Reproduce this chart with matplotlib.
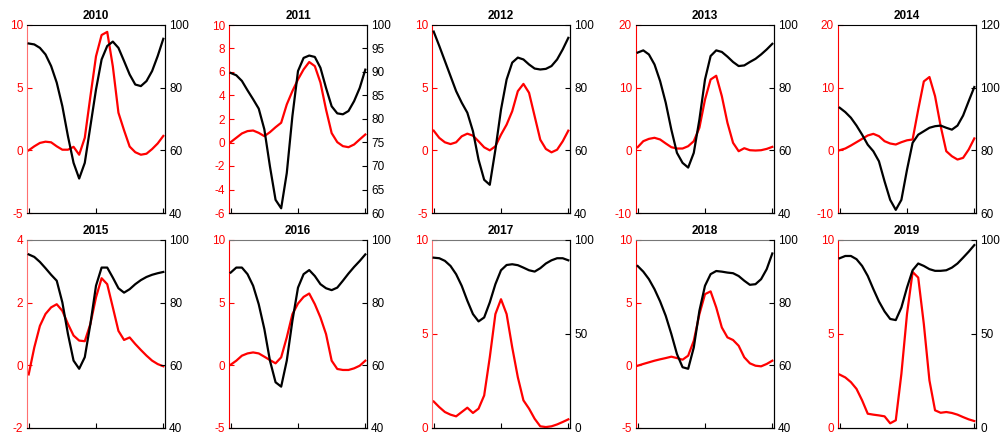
import numpy as np
import matplotlib
matplotlib.use("Agg")
import matplotlib.pyplot as plt

plt.rcParams['font.family'] = ['Liberation Sans', 'DejaVu Sans']
plt.rcParams['axes.unicode_minus'] = False

years = ["2010", "2011", "2012", "2013", "2014", "2015", "2016", "2017", "2018", "2019"]

# red series (left axis), 25 samples across the year
red_2010 = [0.0, 0.32, 0.59, 0.69, 0.64, 0.32, 0.05, 0.05, 0.28, -0.35, 1.0, 4.3, 7.5, 9.2, 9.45,
            6.7, 3.0, 1.6, 0.3, -0.15, -0.35, -0.27, 0.1, 0.55, 1.15]
red_2011 = [0.03, 0.4, 0.77, 0.97, 1.02, 0.82, 0.54, 0.88, 1.3, 1.68, 3.24, 4.37, 5.37, 6.22, 6.85,
            6.5, 5.1, 2.8, 0.8, 0.03, -0.31, -0.4, -0.17, 0.26, 0.68]
red_2012 = [1.57, 0.99, 0.64, 0.5, 0.64, 1.12, 1.33, 1.17, 0.72, 0.24, 0.0, 0.32, 1.25, 2.05, 3.12,
            4.72, 5.3, 4.59, 2.72, 0.85, 0.11, -0.16, 0.05, 0.72, 1.57]
red_2013 = [0.5, 1.46, 1.83, 2.0, 1.73, 1.1, 0.5, 0.29, 0.29, 0.66, 1.46, 3.6, 8.1, 11.3, 11.9,
            8.65, 4.4, 1.2, -0.14, 0.34, 0.02, -0.03, 0.02, 0.23, 0.55]
red_2014 = [0.02, 0.29, 0.77, 1.3, 1.83, 2.37, 2.63, 2.26, 1.46, 1.09, 0.93, 1.3, 1.6, 1.73, 6.5,
            11.0, 11.7, 8.65, 3.86, -0.14, -0.94, -1.47, -1.2, 0.13, 1.9]
red_2015 = [-0.29, 0.57, 1.26, 1.64, 1.85, 1.95, 1.74, 1.32, 0.95, 0.79, 0.77, 1.32, 2.17, 2.78, 2.59,
            1.85, 1.1, 0.81, 0.89, 0.68, 0.49, 0.31, 0.15, 0.04, -0.03]
red_2016 = [0.05, 0.37, 0.77, 0.95, 1.03, 0.95, 0.69, 0.42, 0.16, 0.64, 2.23, 4.08, 4.93, 5.46, 5.73,
            4.88, 3.82, 2.49, 0.37, -0.29, -0.37, -0.37, -0.24, -0.03, 0.37]
red_2017 = [1.41, 1.11, 0.85, 0.71, 0.62, 0.85, 1.08, 0.8, 1.03, 1.73, 3.76, 6.06, 6.85, 6.06, 4.29,
            2.7, 1.47, 1.03, 0.49, 0.09, 0.05, 0.09, 0.19, 0.32, 0.46]
red_2018 = [-0.03, 0.11, 0.24, 0.37, 0.48, 0.58, 0.69, 0.58, 0.45, 0.77, 1.96, 4.08, 5.68, 5.9, 4.62,
            3.02, 2.23, 2.02, 1.56, 0.64, 0.16, -0.03, -0.08, 0.11, 0.37]
red_2019 = [2.84, 2.69, 2.44, 2.08, 1.47, 0.76, 0.71, 0.67, 0.62, 0.25, 0.41, 2.88, 6.06, 8.3, 8.0,
            5.53, 2.53, 0.94, 0.81, 0.85, 0.8, 0.71, 0.58, 0.46, 0.37]

# black series (right axis)
black_2010 = [94.1, 93.8, 92.7, 90.6, 86.9, 81.6, 74.1, 64.5, 56.0, 51.0, 56.0, 67.7, 79.4, 89.0, 93.3,
              94.7, 92.7, 88.5, 84.2, 81.0, 80.5, 82.1, 85.3, 90.1, 95.6]
black_2011 = [89.8, 89.3, 88.1, 86.1, 84.2, 82.2, 77.8, 69.9, 62.8, 61.0, 68.5, 80.6, 90.2, 93.0, 93.5,
              93.2, 90.9, 86.6, 82.7, 81.2, 81.0, 81.7, 83.8, 86.6, 90.5]
black_2012 = [97.9, 93.3, 88.5, 83.7, 78.9, 75.2, 72.0, 66.1, 57.0, 50.6, 49.0, 60.2, 73.0, 82.6, 88.0,
              89.6, 89.0, 87.4, 86.1, 85.8, 86.0, 86.9, 89.0, 92.2, 95.9]
black_2013 = [91.2, 91.9, 90.6, 87.4, 82.1, 75.2, 66.6, 59.2, 56.0, 54.5, 59.2, 69.8, 82.6, 90.1, 91.9,
              91.4, 89.9, 88.2, 86.9, 87.1, 88.2, 89.2, 90.6, 92.2, 94.0]
black_2014 = [93.6, 92.2, 90.4, 87.9, 85.0, 81.8, 79.7, 76.5, 70.1, 64.2, 61.0, 64.2, 73.8, 82.4, 85.0,
              86.1, 87.2, 87.7, 87.9, 87.2, 86.6, 87.9, 91.1, 95.7, 100.2]
black_2015 = [95.4, 94.6, 93.0, 91.0, 88.9, 87.0, 80.1, 70.0, 61.5, 58.9, 62.6, 73.2, 85.4, 91.2, 91.2,
              88.0, 84.6, 83.2, 84.3, 85.9, 87.2, 88.2, 88.9, 89.4, 89.8]
black_2016 = [89.6, 91.2, 91.2, 89.1, 85.4, 79.5, 71.6, 61.5, 54.6, 53.2, 61.5, 74.2, 84.8, 89.1, 90.4,
              88.5, 85.9, 84.6, 84.0, 84.8, 87.0, 89.3, 91.4, 93.3, 95.4]
black_2017 = [90.6, 90.3, 88.9, 86.2, 81.8, 75.6, 67.7, 60.6, 56.7, 58.8, 66.8, 76.5, 83.9, 86.7, 87.1,
              86.6, 85.3, 83.9, 83.2, 85.0, 87.5, 89.2, 90.3, 90.3, 89.2]
black_2018 = [91.7, 89.9, 87.5, 84.3, 80.4, 75.8, 70.0, 63.6, 59.4, 58.9, 65.7, 77.4, 85.4, 89.1, 90.1,
              89.9, 89.6, 89.4, 88.5, 87.0, 85.7, 85.9, 87.5, 90.7, 95.7]
black_2019 = [90.3, 91.5, 91.5, 89.8, 86.2, 80.9, 73.9, 67.3, 62.0, 58.0, 57.4, 64.1, 74.7, 83.9, 87.5,
              86.2, 84.5, 83.6, 83.6, 83.9, 85.3, 87.5, 90.6, 93.8, 97.3]

red_series = [red_2010, red_2011, red_2012, red_2013, red_2014,
              red_2015, red_2016, red_2017, red_2018, red_2019]
black_series = [black_2010, black_2011, black_2012, black_2013, black_2014,
                black_2015, black_2016, black_2017, black_2018, black_2019]

left_ticks = [[-5, 0, 5, 10], list(range(-6, 11, 2)), [-5, 0, 5, 10], [-10, 0, 10, 20], [-10, 0, 10, 20],
              [-2, 0, 2, 4], [-5, 0, 5, 10], [0, 5, 10], [-5, 0, 5, 10], [0, 5, 10]]
right_ticks = [[40, 60, 80, 100], list(range(60, 101, 5)), [40, 60, 80, 100], [40, 60, 80, 100],
               [60, 80, 100, 120], [40, 60, 80, 100], [40, 60, 80, 100], [0, 50, 100],
               [40, 60, 80, 100], [0, 50, 100]]

W, H = 1007, 437
fig = plt.figure(figsize=(W / 100, H / 100), dpi=100)

col_left = [27, 229, 432, 636, 838]
ax_w = 138
row_top = [25, 240]
ax_h = 188

for k, year in enumerate(years):
    r, c = divmod(k, 5)
    x0 = col_left[c]
    y0 = row_top[r]
    ax = fig.add_axes([x0 / W, 1 - (y0 + ax_h) / H, ax_w / W, ax_h / H])
    x = np.arange(len(red_series[k]))
    ax.plot(x, red_series[k], color='#ff0000', lw=1.6)
    ax.set_xlim(-0.3, len(x) - 0.7)
    ax.set_xticks([0, (len(x) - 1) / 2, len(x) - 1])
    ax.set_xticklabels([])
    lt = left_ticks[k]
    ax.set_ylim(lt[0], lt[-1])
    ax.set_yticks(lt)
    ax.tick_params(axis='y', colors='#ff0000', labelsize=8.5, direction='in', length=3.5, width=0.8, pad=3)
    ax.tick_params(axis='x', direction='in', length=3.5, width=0.8)
    # first column and 2017 render the red spine lighter in the original
    ax.spines['left'].set_color('#ff7070' if (c == 0 or k == 7) else '#ff0000')
    for s in ['top', 'bottom', 'right']:
        ax.spines[s].set_color('black')
    if r == 1:
        ax.spines['top'].set_color('#777777')
    for s in ax.spines.values():
        s.set_linewidth(0.8)
    ax.set_title(year, fontsize=8.5, fontweight='bold', pad=4)

    ax2 = ax.twinx()
    ax2.plot(x, black_series[k], color='black', lw=1.6)
    rt = right_ticks[k]
    ax2.set_ylim(rt[0], rt[-1])
    ax2.set_yticks(rt)
    ax2.tick_params(axis='y', colors='black', labelsize=8.5, direction='in', length=3.5, width=0.8, pad=3)
    ax2.spines['left'].set_visible(False)
    ax2.spines['top'].set_visible(False)
    for s in ax2.spines.values():
        s.set_linewidth(0.8)

fig.savefig("out.png", dpi=100)
